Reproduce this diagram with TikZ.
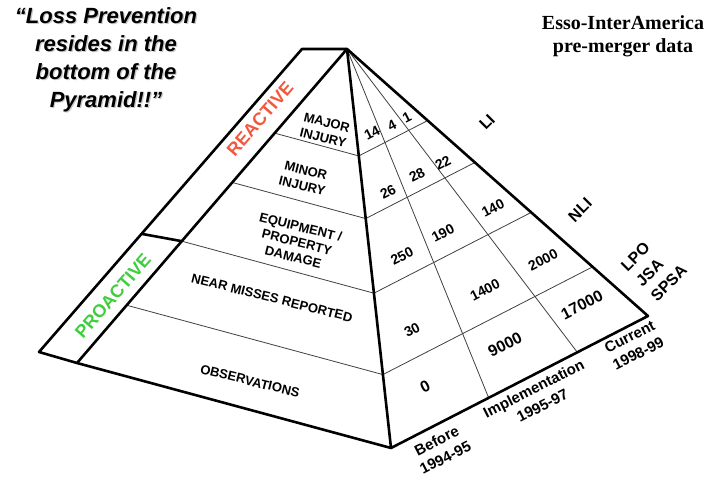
\documentclass[tikz,border=0pt]{standalone}
\usepackage{fontspec}
\setmainfont{Liberation Sans}
\newfontfamily\tnrfont{Liberation Serif}
\usetikzlibrary{calc}
\definecolor{reactred}{RGB}{244,88,60}
\definecolor{proagreen}{RGB}{62,206,62}
\begin{document}
\begin{tikzpicture}[x=1pt,y=-1pt,
  thickline/.style={line width=2.6pt, line join=round, line cap=round},
  thinline/.style={line width=0.8pt, draw=black!75},
  flabel/.style={font=\bfseries\fontsize{13}{15.5}\selectfont, align=center, rotate=-14, inner sep=0pt},
  num/.style={font=\bfseries\fontsize{14}{16}\selectfont, rotate=27, inner sep=0pt},
  bignum/.style={font=\bfseries\fontsize{16}{18}\selectfont, rotate=27, inner sep=0pt},
  rlabel/.style={font=\bfseries\fontsize{16}{21}\selectfont, rotate=45, inner sep=0pt, align=left},
  blabel/.style={font=\bfseries\fontsize{15}{19}\selectfont, rotate=27, inner sep=0pt, align=center},
  band/.style={font=\bfseries\fontsize{18}{20}\selectfont, rotate=49, inner sep=0pt},
  quote/.style={font=\bfseries\itshape\fontsize{22}{28}\selectfont, align=center, inner sep=0pt}
]
\useasboundingbox (0,0) rectangle (706,478);

% key points
\coordinate (A) at (347,49);
\coordinate (L) at (77,363);
\coordinate (F) at (391,448);
\coordinate (R) at (648,316);
\coordinate (B1) at (302,49);
\coordinate (B2) at (39,352);
\coordinate (C1) at ($(F)!0.38!(R)$);
\coordinate (C2) at ($(F)!0.725!(R)$);

\foreach \t [count=\i] in {0.268,0.425,0.612,0.816} {
  \coordinate (FL\i) at ($(A)!\t!(L)$);
  \coordinate (FF\i) at ($(A)!\t!(F)$);
  \coordinate (FR\i) at ($(A)!\t!(R)$);
}
\coordinate (D1) at ($(B1)!0.61!(B2)$);

% thin grid lines
\foreach \i in {1,2,3,4} {
  \draw[thinline] (FL\i) -- (FF\i) -- (FR\i);
}
\draw[thinline] (A) -- (C1);
\draw[thinline] (A) -- (C2);

% thick outlines
\draw[thickline] (A) -- (B1) -- (B2) -- (L) -- cycle;
\draw[thickline] (L) -- (F) -- (R) -- (A) -- (F);
\draw[thickline] (D1) -- (FL3);

% band labels
\node[band, text=reactred] (reactive) at (260,119) {REACTIVE};
\node[band, text=proagreen] (proactive) at (113,296) {PROACTIVE};

% front face labels
\node[flabel] (major) at (325,130) {MAJOR\\INJURY};
\node[flabel] (minor) at (304,178) {MINOR\\INJURY};
\node[flabel] (equip) at (297,242) {EQUIPMENT /\\PROPERTY\\DAMAGE};
\node[flabel] (near) at (272,298) {NEAR MISSES REPORTED};
\node[flabel] (obs) at (250,381) {OBSERVATIONS};

% numbers
\node[num] (n14) at (372,133) {14};
\node[num] (n4) at (392,125) {4};
\node[num] (n1) at (407,117) {1};
\node[num] (n26) at (388,192) {26};
\node[num] (n28) at (417,175) {28};
\node[num] (n22) at (443,163) {22};
\node[num] (n250) at (402,256) {250};
\node[num] (n190) at (443,233) {190};
\node[num] (n140) at (493,208) {140};
\node[num] (n30) at (412,330) {30};
\node[num] (n1400) at (485,290) {1400};
\node[num] (n2000) at (543,260) {2000};
\node[bignum] (n0) at (425,387) {0};
\node[bignum] (n9000) at (505,345) {9000};
\node[bignum] (n17000) at (582,305) {17000};

% right labels
\node[rlabel] (li) at (487,122) {LI};
\node[rlabel] (nli) at (580,210) {NLI};
\node[rlabel] (lpo) at (654,268) {LPO\\JSA\\SPSA};

% bottom labels
\node[blabel] (before) at (441,449) {Before\\1994-95};
\node[blabel] (impl) at (538,397) {Implementation\\1995-97};
\node[blabel] (curr) at (634,345) {Current\\1998-99};

% quote with light shadow
\node[quote, text=black!22] (quoteshadow) at (107.2,61.2) {“Loss Prevention\\resides in the\\bottom of the\\Pyramid!!”};
\node[quote] (quotetext) at (106,60) {“Loss Prevention\\resides in the\\bottom of the\\Pyramid!!”};

% top right
\node[font=\tnrfont\bfseries\fontsize{20}{23}\selectfont, align=center, inner sep=0pt] (esso) at (623,36) {Esso-InterAmerica\\pre-merger data};
\end{tikzpicture}
\end{document}
